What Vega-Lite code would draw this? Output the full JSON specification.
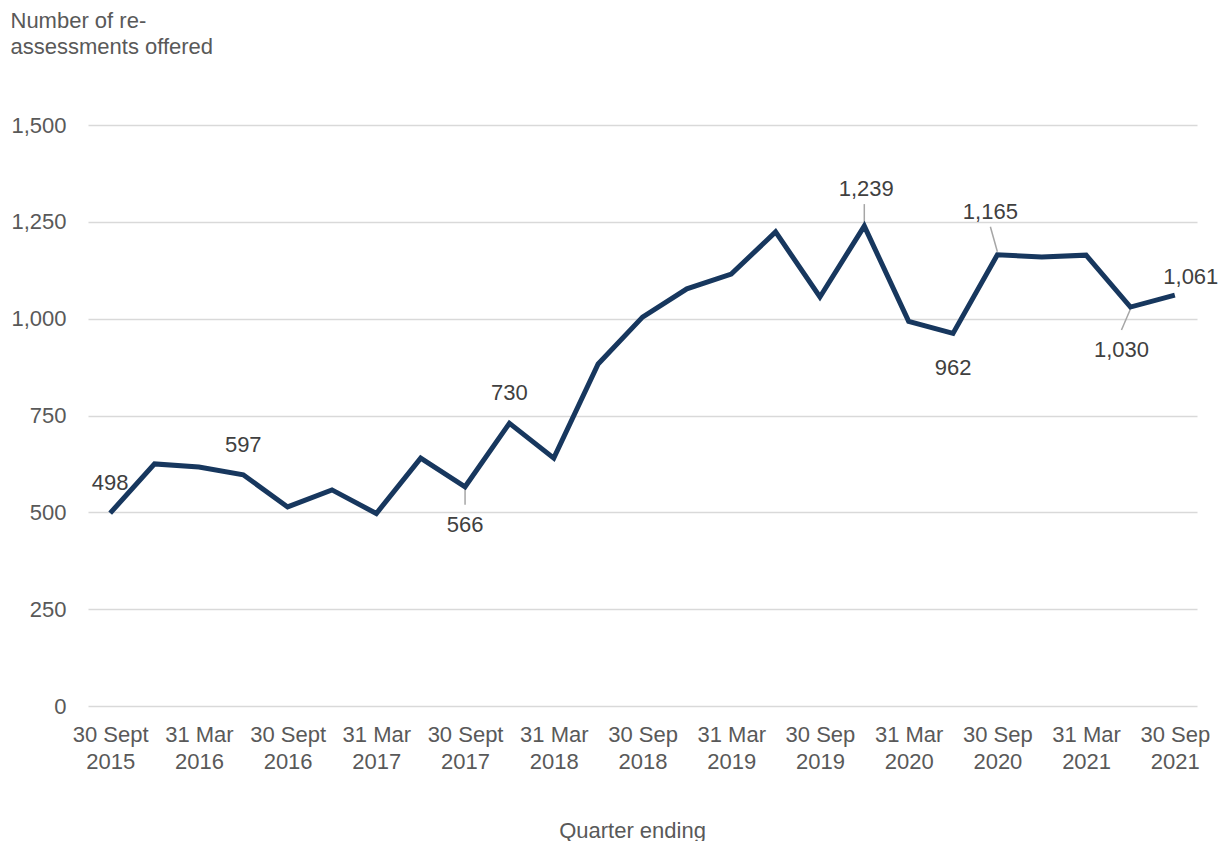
{
  "$schema": "https://vega.github.io/schema/vega-lite/v6.json",
  "autosize": {"type": "none"},
  "width": 1109,
  "height": 581,
  "padding": {"left": 88, "top": 125, "right": 23, "bottom": 135},
  "background": "white",
  "config": {
    "font": "Liberation Sans",
    "view": {"stroke": null},
    "axis": {
      "labelFont": "Liberation Sans",
      "titleFont": "Liberation Sans",
      "labelColor": "#595959",
      "titleColor": "#595959",
      "labelFontSize": 22,
      "titleFontSize": 22,
      "titleFontWeight": "normal",
      "domain": false,
      "ticks": false
    }
  },
  "data": {
    "values": [
      {"quarter": "30 Sept 2015", "value": 498},
      {"quarter": "31 Dec 2015", "value": 625},
      {"quarter": "31 Mar 2016", "value": 617},
      {"quarter": "30 Jun 2016", "value": 597},
      {"quarter": "30 Sept 2016", "value": 514},
      {"quarter": "31 Dec 2016", "value": 558},
      {"quarter": "31 Mar 2017", "value": 497},
      {"quarter": "30 Jun 2017", "value": 640},
      {"quarter": "30 Sept 2017", "value": 566},
      {"quarter": "31 Dec 2017", "value": 730},
      {"quarter": "31 Mar 2018", "value": 640},
      {"quarter": "30 Jun 2018", "value": 883},
      {"quarter": "30 Sep 2018", "value": 1004},
      {"quarter": "31 Dec 2018", "value": 1077},
      {"quarter": "31 Mar 2019", "value": 1115},
      {"quarter": "30 Jun 2019", "value": 1224},
      {"quarter": "30 Sep 2019", "value": 1056},
      {"quarter": "31 Dec 2019", "value": 1239},
      {"quarter": "31 Mar 2020", "value": 993},
      {"quarter": "30 Jun 2020", "value": 962},
      {"quarter": "30 Sep 2020", "value": 1165},
      {"quarter": "31 Dec 2020", "value": 1159},
      {"quarter": "31 Mar 2021", "value": 1164},
      {"quarter": "30 Jun 2021", "value": 1030},
      {"quarter": "30 Sep 2021", "value": 1061}
    ]
  },
  "encoding": {
    "x": {
      "field": "quarter",
      "type": "ordinal",
      "sort": null,
      "scale": {
        "type": "point",
        "padding": 0.5,
        "domain": ["30 Sept 2015", "31 Dec 2015", "31 Mar 2016", "30 Jun 2016", "30 Sept 2016", "31 Dec 2016", "31 Mar 2017", "30 Jun 2017", "30 Sept 2017", "31 Dec 2017", "31 Mar 2018", "30 Jun 2018", "30 Sep 2018", "31 Dec 2018", "31 Mar 2019", "30 Jun 2019", "30 Sep 2019", "31 Dec 2019", "31 Mar 2020", "30 Jun 2020", "30 Sep 2020", "31 Dec 2020", "31 Mar 2021", "30 Jun 2021", "30 Sep 2021"]
      },
      "axis": {
        "title": "Quarter ending",
        "labelAngle": 0,
        "labelPadding": 18,
        "labelLineHeight": 27,
        "labelBaseline": "top",
        "grid": false,
        "titleX": 544,
        "titleY": 131,
        "titleBaseline": "alphabetic",
        "values": ["30 Sept 2015", "31 Mar 2016", "30 Sept 2016", "31 Mar 2017", "30 Sept 2017", "31 Mar 2018", "30 Sep 2018", "31 Mar 2019", "30 Sep 2019", "31 Mar 2020", "30 Sep 2020", "31 Mar 2021", "30 Sep 2021"],
        "labelExpr": "[slice(datum.label, 0, lastindexof(datum.label, ' ')), slice(datum.label, lastindexof(datum.label, ' ') + 1)]"
      }
    },
    "y": {
      "field": "value",
      "type": "quantitative",
      "scale": {"domain": [0, 1500]},
      "axis": {
        "values": [0, 250, 500, 750, 1000, 1250, 1500],
        "format": ",d",
        "labelPadding": 22,
        "grid": true,
        "gridColor": "#d9d9d9",
        "gridWidth": 1.5,
        "title": ["Number of re-", "assessments offered"],
        "titleAngle": 0,
        "titleAlign": "left",
        "titleBaseline": "top",
        "titleX": -78,
        "titleY": -115,
        "titleLineHeight": 26
      }
    }
  },
  "layer": [
    {
      "transform": [{"filter": "datum.quarter == '31 Dec 2019'"}],
      "mark": {"type": "rule", "color": "#a6a6a6", "strokeWidth": 1.5, "yOffset": -4, "y2Offset": -22},
      "encoding": {"y2": {"field": "value"}}
    },
    {
      "transform": [{"filter": "datum.quarter == '30 Sept 2017'"}],
      "mark": {"type": "rule", "color": "#a6a6a6", "strokeWidth": 1.5, "yOffset": 2, "y2Offset": 18},
      "encoding": {"y2": {"field": "value"}}
    },
    {
      "transform": [{"filter": "datum.quarter == '30 Sep 2020'"}],
      "mark": {"type": "rule", "color": "#a6a6a6", "strokeWidth": 1.5, "yOffset": -3, "y2Offset": -28, "x2Offset": -7},
      "encoding": {"x2": {"field": "quarter"}, "y2": {"field": "value"}}
    },
    {
      "transform": [{"filter": "datum.quarter == '30 Jun 2021'"}],
      "mark": {"type": "rule", "color": "#a6a6a6", "strokeWidth": 1.5, "yOffset": 2, "y2Offset": 23, "x2Offset": -9},
      "encoding": {"x2": {"field": "quarter"}, "y2": {"field": "value"}}
    },
    {
      "mark": {"type": "line", "color": "#17375e", "strokeWidth": 5, "strokeJoin": "miter"}
    },
    {
      "transform": [{"filter": {"field": "quarter", "oneOf": ["30 Sept 2015", "30 Jun 2016", "31 Dec 2017"]}}],
      "mark": {"type": "text", "fontSize": 22, "color": "#404040", "baseline": "middle", "dy": -30},
      "encoding": {"text": {"field": "value", "type": "quantitative", "format": ",d"}}
    },
    {
      "transform": [{"filter": "datum.quarter == '30 Sep 2021'"}],
      "mark": {"type": "text", "fontSize": 22, "color": "#404040", "baseline": "middle", "dy": -18, "dx": 16},
      "encoding": {"text": {"field": "value", "type": "quantitative", "format": ",d"}}
    },
    {
      "transform": [{"filter": "datum.quarter == '30 Jun 2020'"}],
      "mark": {"type": "text", "fontSize": 22, "color": "#404040", "baseline": "middle", "dy": 35},
      "encoding": {"text": {"field": "value", "type": "quantitative", "format": ",d"}}
    },
    {
      "transform": [{"filter": "datum.quarter == '31 Dec 2019'"}],
      "mark": {"type": "text", "fontSize": 22, "color": "#404040", "baseline": "middle", "dy": -37, "dx": 2},
      "encoding": {"text": {"field": "value", "type": "quantitative", "format": ",d"}}
    },
    {
      "transform": [{"filter": "datum.quarter == '30 Sep 2020'"}],
      "mark": {"type": "text", "fontSize": 22, "color": "#404040", "baseline": "middle", "dy": -43, "dx": -7},
      "encoding": {"text": {"field": "value", "type": "quantitative", "format": ",d"}}
    },
    {
      "transform": [{"filter": "datum.quarter == '30 Sept 2017'"}],
      "mark": {"type": "text", "fontSize": 22, "color": "#404040", "baseline": "middle", "dy": 38},
      "encoding": {"text": {"field": "value", "type": "quantitative", "format": ",d"}}
    },
    {
      "transform": [{"filter": "datum.quarter == '30 Jun 2021'"}],
      "mark": {"type": "text", "fontSize": 22, "color": "#404040", "baseline": "middle", "dy": 43, "dx": -9},
      "encoding": {"text": {"field": "value", "type": "quantitative", "format": ",d"}}
    }
  ]
}
